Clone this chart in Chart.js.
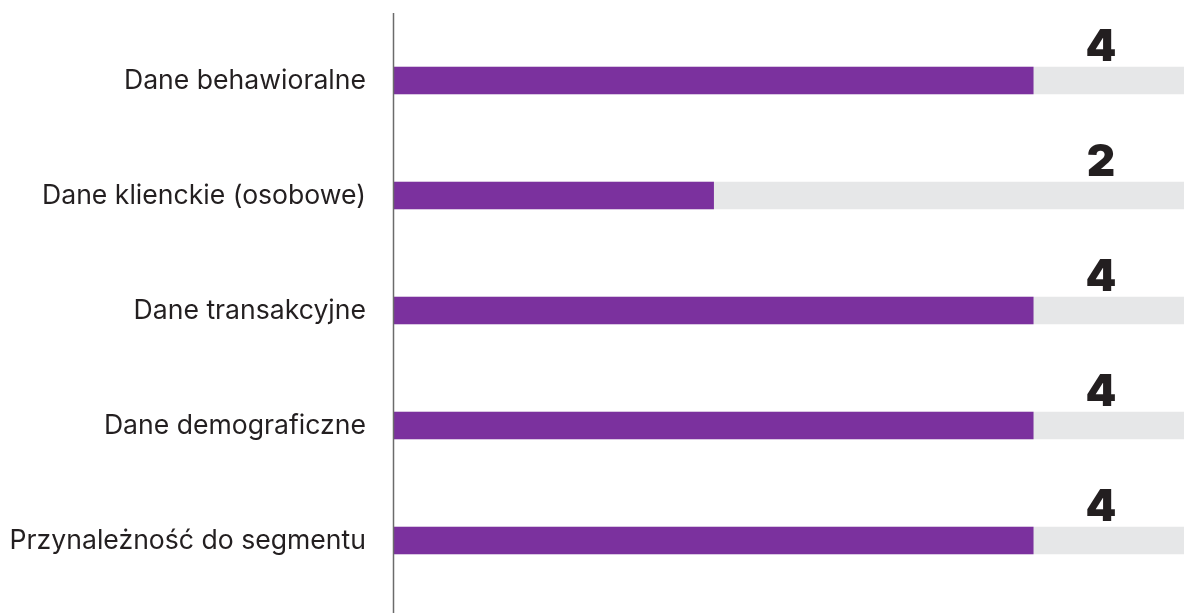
<!DOCTYPE html>
<html>
<head>
<meta charset="utf-8">
<script src="https://cdn.jsdelivr.net/npm/chart.js@4"></script>
<style>
  html, body { margin: 0; padding: 0; background: #fff; overflow: hidden; }
  #wrap { width: 1193px; height: 613px; }
</style>
</head>
<body>
<div id="wrap"><canvas id="chart"></canvas></div>
<script>
// Data
const categories = [
    'Dane behawioralne',
    'Dane klienckie (osobowe)',
    'Dane transakcyjne',
    'Dane demograficzne',
    'Przynależność do segmentu'
];
const scores = [4, 2, 4, 4, 4];
const maxScore = [5, 5, 5, 5, 5];

// Draws the big value numbers and the long axis line
const extrasPlugin = {
    id: 'extras',
    afterDatasetsDraw(chart) {
        const ctx = chart.ctx;
        const x = chart.scales.x;
        const y = chart.scales.y;
        ctx.save();
        // axis line, a bit longer than the plot area
        ctx.strokeStyle = '#6b6b6b';
        ctx.lineWidth = 1.5;
        ctx.beginPath();
        ctx.moveTo(x.left - 0.5, chart.chartArea.top - 10);
        ctx.lineTo(x.left - 0.5, chart.height);
        ctx.stroke();

        ctx.fillStyle = '#231f20';
        ctx.font = '900 44px Inter';
        ctx.textAlign = 'center';
        ctx.textBaseline = 'middle';
        scores.forEach((v, i) => {
            const cy = y.getPixelForValue(i);
            ctx.fillText(String(v), x.getPixelForValue(5) - 92, cy - 33);
        });
        ctx.restore();
    }
};

const ctx = document.getElementById('chart').getContext('2d');
const chart = new Chart(ctx, {
    type: 'bar',
    data: {
        labels: categories,
        datasets: [
            {
                data: scores,
                backgroundColor: '#7b319e',
                barThickness: 27,
                grouped: false,
                order: 0
            },
            {
                data: maxScore,
                backgroundColor: '#e6e7e8',
                barThickness: 27,
                grouped: false,
                order: 1
            }
        ]
    },
    options: {
        indexAxis: 'y',
        responsive: true,
        maintainAspectRatio: false,
        animation: false,
        layout: { padding: { top: 23, bottom: 15, left: 0, right: 0 } },
        plugins: {
            legend: { display: false },
            tooltip: { enabled: false }
        },
        scales: {
            x: {
                display: false,
                min: 0,
                max: 5
            },
            y: {
                grid: { display: false, drawTicks: false },
                border: { display: false },
                ticks: {
                    color: '#231f20',
                    font: { family: 'Inter', size: 26.6 },
                    padding: 28
                },
                afterFit(scale) {
                    scale.width = 394;
                    scale.paddingTop = 0;
                    scale.paddingBottom = 0;
                }
            }
        }
    },
    plugins: [extrasPlugin]
});
</script>
</body>
</html>
